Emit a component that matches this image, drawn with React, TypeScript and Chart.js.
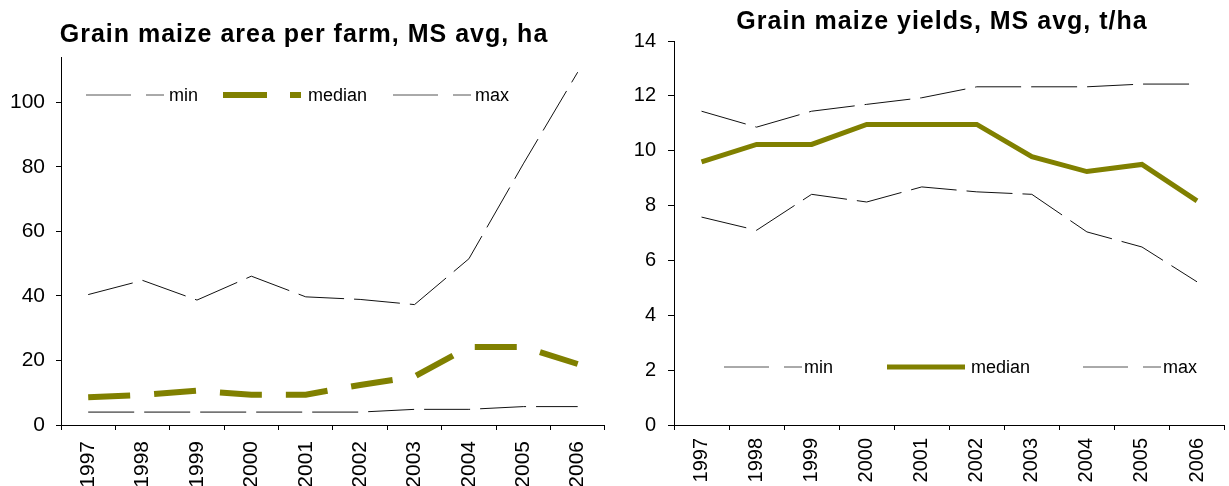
import React, { useEffect, useRef } from 'react';
import { Chart, registerables } from 'chart.js';

Chart.register(...registerables);

// ---------- data ----------
const years = ['1997', '1998', '1999', '2000', '2001', '2002', '2003', '2004', '2005', '2006'];

const areaMin = [4.0, 4.0, 4.0, 4.0, 4.0, 4.0, 4.85, 4.85, 5.7, 5.7];
const areaMedian = [8.6, 9.3, 10.6, 9.4, 9.4, 12.4, 15.0, 24.2, 24.2, 18.9];
const areaMax = [40.4, 44.8, 38.7, 46.1, 39.7, 38.9, 37.3, 51.5, 80.9, 109.3];
const areaTicks = [0, 20, 40, 60, 80, 100];

const yieldMin = [7.58, 7.1, 8.41, 8.13, 8.68, 8.5, 8.41, 7.04, 6.49, 5.22];
const yieldMedian = [9.59, 10.23, 10.23, 10.96, 10.96, 10.96, 9.78, 9.24, 9.5, 8.17];
const yieldMax = [11.44, 10.86, 11.44, 11.69, 11.93, 12.33, 12.33, 12.33, 12.43, 12.43];
const yieldTicks = [0, 2, 4, 6, 8, 10, 12, 14];

const seriesLabels = ['min', 'median', 'max'];
const areaTitle = 'Grain maize area per farm, MS avg, ha';
const yieldTitle = 'Grain maize yields, MS avg, t/ha';

const OLIVE = '#808000';
const FONT = '"Liberation Sans", Arial, Helvetica, sans-serif';

type LegendCfg = {
  y: number;
  sampleX: number[];
  textX: number[];
  sampleLen: number;
  dashes: number[][];
  colors: string[];
  widths: number[];
};

type Cfg = {
  title: string;
  titleX: number;
  titleBaseline: number;
  legend: LegendCfg;
  padTop: number;
  padRight: number;
  yAxisWidth: number;
  xAxisHeight: number;
  yMax: number;
  yTicks: number[];
  tickFont: number;
  yTickLen: number;
  yTickPad: number;
  xTickPad: number;
  series: number[][];
  dashes: number[][];
  widths: number[];
  colors: string[];
};

function makeOverlay(cfg: Cfg) {
  return {
    id: 'overlay',
    afterDraw(chart: any) {
      const ctx: CanvasRenderingContext2D = chart.ctx;
      ctx.save();
      // title
      ctx.fillStyle = '#000';
      ctx.font = `bold 25px ${FONT}`;
      (ctx as any).letterSpacing = '1px';
      ctx.textAlign = 'center';
      ctx.textBaseline = 'alphabetic';
      ctx.fillText(cfg.title, cfg.titleX, cfg.titleBaseline);
      (ctx as any).letterSpacing = '0px';
      // legend
      const lg = cfg.legend;
      ctx.font = `18px ${FONT}`;
      ctx.textAlign = 'left';
      ctx.textBaseline = 'middle';
      seriesLabels.forEach((lab, i) => {
        ctx.beginPath();
        ctx.setLineDash(lg.dashes[i]);
        ctx.lineCap = 'butt';
        ctx.strokeStyle = lg.colors[i];
        ctx.lineWidth = lg.widths[i];
        ctx.moveTo(lg.sampleX[i], lg.y);
        ctx.lineTo(lg.sampleX[i] + lg.sampleLen, lg.y);
        ctx.stroke();
        ctx.setLineDash([]);
        ctx.fillStyle = '#000';
        ctx.fillText(lab, lg.textX[i], lg.y + 1);
      });
      ctx.restore();
    },
  };
}

function buildChart(canvas: HTMLCanvasElement, cfg: Cfg) {
  return new Chart(canvas, {
    type: 'line',
    data: {
      labels: years,
      datasets: seriesLabels.map((lab, i) => ({
        label: lab,
        data: cfg.series[i],
        borderColor: cfg.colors[i],
        backgroundColor: cfg.colors[i],
        borderWidth: cfg.widths[i],
        borderDash: cfg.dashes[i],
        borderCapStyle: 'butt',
        borderJoinStyle: 'miter',
        pointRadius: 0,
        tension: 0,
        fill: false,
      })),
    },
    options: {
      animation: false,
      responsive: false,
      maintainAspectRatio: false,
      layout: { padding: { top: cfg.padTop, right: cfg.padRight, left: 0, bottom: 0 } },
      plugins: {
        legend: { display: false },
        title: { display: false },
        tooltip: { enabled: false },
      },
      scales: {
        x: {
          type: 'category',
          offset: true,
          grid: { offset: true, drawOnChartArea: false, drawTicks: true, tickLength: 5, color: '#000', lineWidth: 1 },
          border: { display: true, color: '#000', width: 1 },
          ticks: {
            autoSkip: false,
            minRotation: 90,
            maxRotation: 90,
            padding: cfg.xTickPad,
            color: '#000',
            font: { family: FONT, size: cfg.tickFont },
          },
          afterFit: (s: any) => {
            s.height = cfg.xAxisHeight;
          },
        },
        y: {
          type: 'linear',
          min: 0,
          max: cfg.yMax,
          afterBuildTicks: (s: any) => {
            s.ticks = cfg.yTicks.map((v) => ({ value: v }));
          },
          grid: { drawOnChartArea: false, drawTicks: true, tickLength: cfg.yTickLen, color: '#000', lineWidth: 1 },
          border: { display: true, color: '#000', width: 1 },
          ticks: {
            padding: cfg.yTickPad,
            color: '#000',
            font: { family: FONT, size: cfg.tickFont },
          },
          afterFit: (s: any) => {
            s.width = cfg.yAxisWidth;
          },
        },
      },
    } as any,
    plugins: [makeOverlay(cfg)],
  });
}

const THIN_DASH = [46, 10];
const THIN_LEG_DASH = [45, 15];

const leftCfg: Cfg = {
  title: areaTitle,
  titleX: 304,
  titleBaseline: 42,
  legend: {
    y: 95,
    sampleX: [86, 223, 393],
    textX: [169, 308, 475],
    sampleLen: 78,
    dashes: [THIN_LEG_DASH, [44, 23], THIN_LEG_DASH],
    colors: ['#555', OLIVE, '#555'],
    widths: [1, 6, 1],
  },
  padTop: 57,
  padRight: 2,
  yAxisWidth: 61,
  xAxisHeight: 61,
  yMax: 114,
  yTicks: areaTicks,
  tickFont: 21,
  yTickLen: 5,
  yTickPad: 11,
  xTickPad: 11,
  series: [areaMin, areaMedian, areaMax],
  dashes: [THIN_DASH, [42, 24], THIN_DASH],
  widths: [1, 6, 1],
  colors: ['#111', OLIVE, '#111'],
};

const rightCfg: Cfg = {
  title: yieldTitle,
  titleX: 328,
  titleBaseline: 29,
  legend: {
    y: 367,
    sampleX: [110, 273, 469],
    textX: [190, 357, 549],
    sampleLen: 78,
    dashes: [THIN_LEG_DASH, [], THIN_LEG_DASH],
    colors: ['#555', OLIVE, '#555'],
    widths: [1, 5, 1],
  },
  padTop: 41,
  padRight: 0,
  yAxisWidth: 60,
  xAxisHeight: 61,
  yMax: 14,
  yTicks: yieldTicks,
  tickFont: 20,
  yTickLen: 6,
  yTickPad: 12,
  xTickPad: 8,
  series: [yieldMin, yieldMedian, yieldMax],
  dashes: [THIN_DASH, [], THIN_DASH],
  widths: [1, 5, 1],
  colors: ['#111', OLIVE, '#111'],
};

function ChartCanvas({ cfg, left, width }: { cfg: Cfg; left: number; width: number }) {
  const ref = useRef<HTMLCanvasElement | null>(null);
  useEffect(() => {
    if (!ref.current) return;
    const chart = buildChart(ref.current, cfg);
    return () => chart.destroy();
  }, [cfg]);
  return (
    <canvas
      ref={ref}
      width={width}
      height={486}
      style={{ position: 'absolute', left, top: 0, width, height: 486 }}
    />
  );
}

export default function App() {
  return (
    <div
      style={{
        position: 'fixed',
        left: 0,
        top: 0,
        width: 1229,
        height: 486,
        background: '#fff',
        overflow: 'hidden',
      }}
    >
      <ChartCanvas cfg={leftCfg} left={0} width={614} />
      <ChartCanvas cfg={rightCfg} left={614} width={615} />
    </div>
  );
}
